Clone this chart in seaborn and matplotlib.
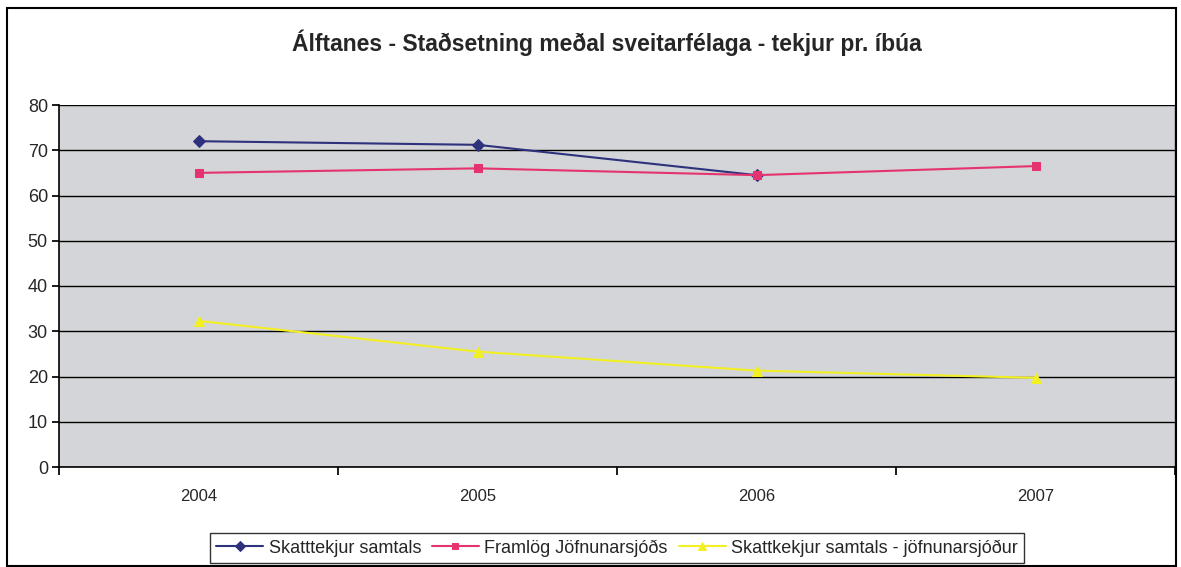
import matplotlib
matplotlib.use("Agg")
import matplotlib.pyplot as plt
from matplotlib.patches import Rectangle
import seaborn as sns
import pandas as pd
import numpy as np

years = ["2004", "2005", "2006", "2007"]
skatttekjur = [72.0, 71.2, 64.5, np.nan]
framlog = [65.0, 66.0, 64.5, 66.5]
mismunur = [32.3, 25.5, 21.3, 19.7]

series_names = ["Skatttekjur samtals", "Framlög Jöfnunarsjóðs",
                "Skattkekjur samtals - jöfnunarsjóður"]

sns.set_theme(style="white")
plt.rcParams['font.family'] = ['Liberation Sans', 'DejaVu Sans']

fig = plt.figure(figsize=(11.81, 5.67), dpi=100)
ax = fig.add_axes([59 / 1181, 1 - 467 / 567, 1116 / 1181, 362 / 567])
ax.set_facecolor("#d3d5d8")

pos = np.arange(len(years))
styles = [
    (skatttekjur, "#2e317c", "D", 6),
    (framlog, "#e5336f", "s", 6),
    (mismunur, "#f2f022", "^", 7),
]
for (vals, color, marker, ms), name in zip(styles, series_names):
    df = pd.DataFrame({"x": pos, "y": vals}).dropna()
    sns.lineplot(data=df, x="x", y="y", ax=ax, color=color, marker=marker,
                 markersize=ms, markeredgecolor=color, linewidth=1.5,
                 label=name)

ax.set_xlim(-0.5, len(years) - 0.5)
ax.set_ylim(0, 80)
ax.set_yticks(range(0, 81, 10))
ax.yaxis.grid(True, color="black", linewidth=1)
ax.xaxis.grid(False)

# category boundaries as ticks, labels in the middle
ax.set_xticks(np.arange(-0.5, len(years), 1.0))
ax.set_xticklabels([])
ax.set_xticks(pos, minor=True)
ax.set_xticklabels(years, minor=True, fontsize=12)
ax.tick_params(axis="x", which="major", direction="out", length=6,
               color="black", bottom=True)
ax.tick_params(axis="x", which="minor", length=0, pad=16)
ax.tick_params(axis="y", direction="out", length=5, color="black",
               left=True, labelsize=13, pad=3)
ax.set_xlabel("")
ax.set_ylabel("")

for side in ["left", "bottom"]:
    ax.spines[side].set_color("black")
    ax.spines[side].set_linewidth(1.2)
ax.spines["top"].set_visible(False)
ax.spines["right"].set_color("#555555")
ax.spines["right"].set_linewidth(1.0)

fig.text(607 / 1181, 1 - 43 / 567,
         "Álftanes - Staðsetning meðal sveitarfélaga - tekjur pr. íbúa",
         ha="center", va="center", fontsize=16.5, fontweight="bold")

leg = ax.legend(loc="center", bbox_to_anchor=(617 / 1181, 1 - 548 / 567),
                bbox_transform=fig.transFigure, ncol=3, frameon=True,
                fancybox=False, edgecolor="black", fontsize=13,
                handlelength=2.6, columnspacing=0.6, handletextpad=0.3,
                borderpad=0.35, markerscale=0.8)
leg.get_frame().set_linewidth(1.0)

fig.patches.append(Rectangle((7 / 1181, 0.002), 1 - 12 / 1181, 1 - 9 / 567,
                             transform=fig.transFigure, fill=False,
                             edgecolor="black", linewidth=1.5))

fig.savefig("out.png", dpi=100)
